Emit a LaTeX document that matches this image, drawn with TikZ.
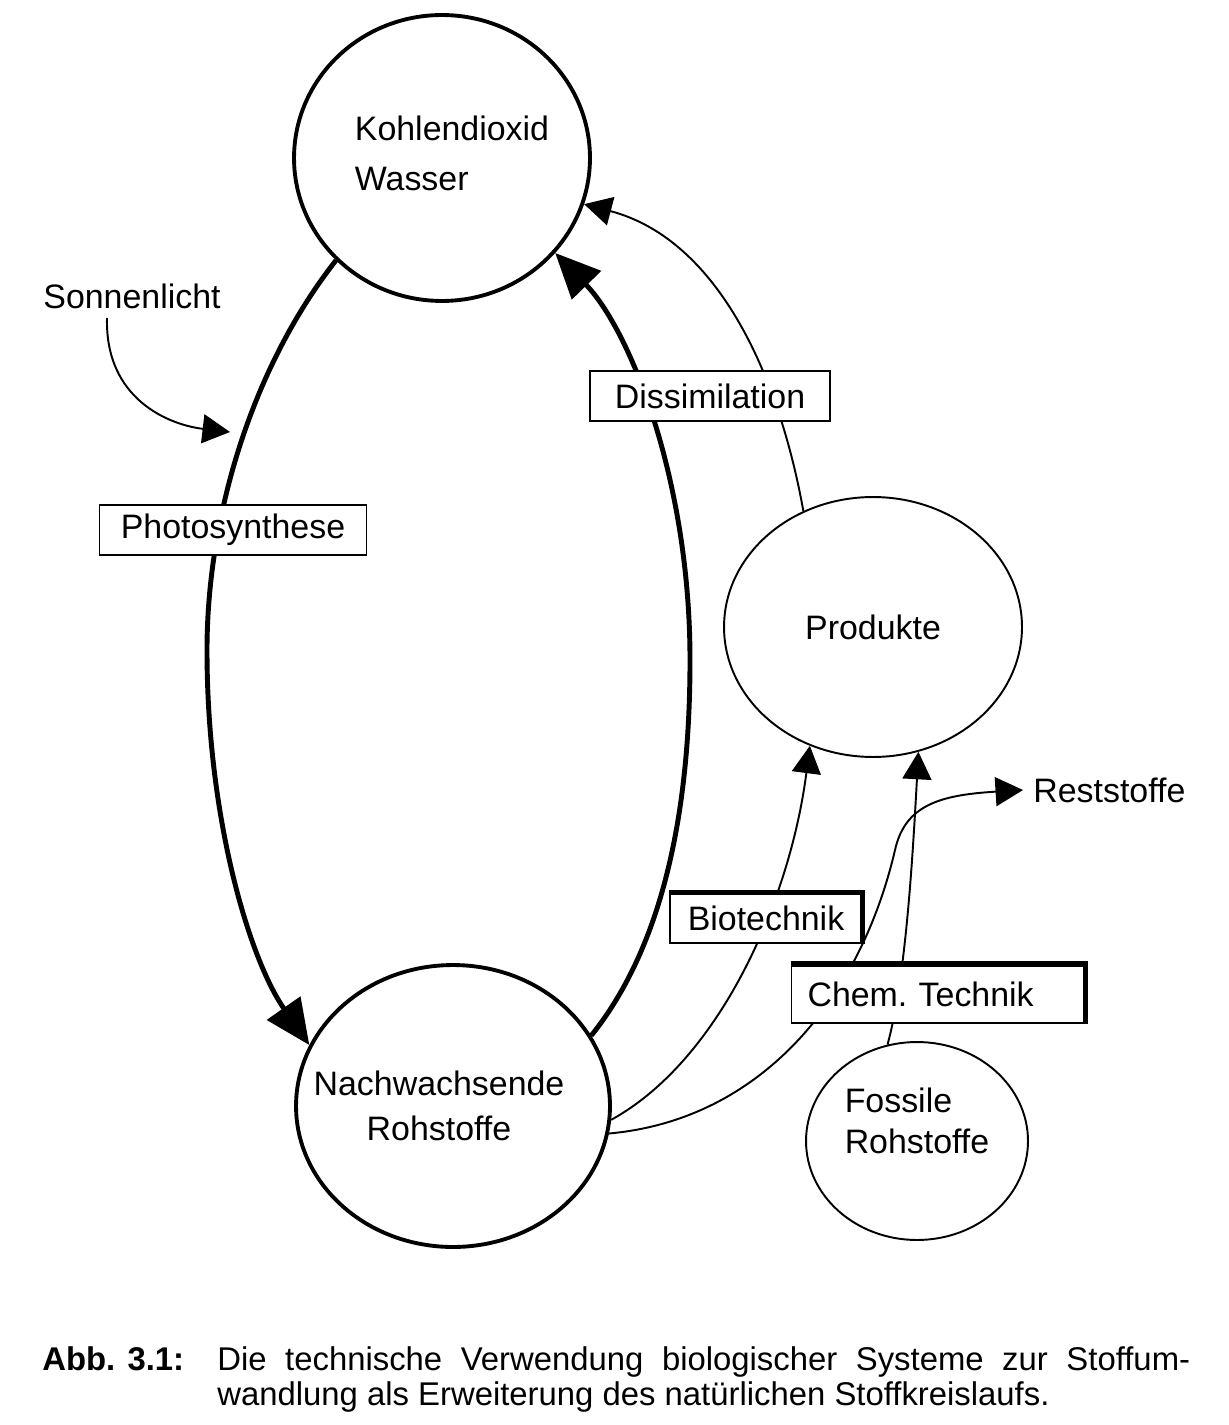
\documentclass[tikz,border=0pt]{standalone}
\usepackage{fontspec}
\setmainfont{Liberation Sans}
\usetikzlibrary{shapes.geometric,arrows.meta,positioning}

\begin{document}
\begin{tikzpicture}[
    x=0.02cm, y=-0.02cm,
    every node/.style={font=\fontsize{19.3}{26}\selectfont},
    pool/.style={ellipse, draw, line width=2.2pt, inner sep=0pt},
    thinpool/.style={ellipse, draw, line width=1.1pt, inner sep=0pt},
    tag/.style={draw, fill=white, line width=1pt, minimum height=1cm, inner sep=0pt},
    heavyedge/.style={line width=2.8pt},
    heavy/.style={line width=2.8pt, -{Triangle[length=0.9cm,width=0.8cm]}},
    flow/.style={line width=1.1pt, -{Triangle[length=0.55cm,width=0.58cm]}},
    capfont/.style={anchor=base west, inner sep=0pt, font=\fontsize{18.7}{20}\selectfont}
  ]
  \useasboundingbox (0,0) rectangle (1229,1425);

  % Stoffpools
  \node[pool, minimum width=5.92cm, minimum height=5.72cm,
        label={[align=left, xshift=0.2cm, yshift=0.1cm, font=\fontsize{19.3}{28.5}\selectfont]center:Kohlendioxid\\Wasser}] (co2) at (442,158) {};
  \node[pool, minimum width=6.28cm, minimum height=5.64cm,
        label={[align=center, xshift=-0.28cm]center:Nachwachsende\\Rohstoffe}] (raw) at (453,1106) {};
  \node[thinpool, minimum width=5.96cm, minimum height=5.2cm] (prod) at (873,627) {Produkte};
  \node[thinpool, minimum width=4.44cm, minimum height=3.96cm,
        label={[align=left, yshift=0.4cm, font=\fontsize{19.3}{23}\selectfont]center:Fossile\\Rohstoffe}] (fossil) at (917,1141) {};

  % freie Texte
  \node (sun) at (132,296) {Sonnenlicht};
  \node[anchor=west, inner sep=0.2cm] (rest) at (1023,790) {Reststoffe};
  \coordinate (sunstart) at (107,318);
  \coordinate (sunhit) at (230,432);

  % Kreislauf
  \draw[heavy] (co2.224) .. controls (250,370) and (207,520) .. (207,650)
               .. controls (207,820) and (250,960) .. (raw.157);
  \draw[heavy] (raw.27) .. controls (660,950) and (690,820) .. (690,660)
               .. controls (690,480) and (630,330) .. (co2.-40);
  \draw[flow] (sunstart) .. controls (105,400) and (170,425) .. (sunhit);

  % Technik
  \draw[flow] (prod.121) .. controls (780,380) and (720,240) .. (co2.-18);
  \draw[flow] (raw.-5) .. controls (720,1060) and (790,900) .. (prod.242);
  \draw[flow] (fossil.107) .. controls (905,980) and (912,870) .. (prod.290);
  \draw[flow] (raw.-10) .. controls (760,1120) and (860,1000) .. (895,850)
              .. controls (905,805) and (940,795) .. (rest.west);

  % Beschriftungen
  \node[tag, minimum width=5.34cm] (photo) at (233,530) {Photosynthese};
  \node[tag, minimum width=4.8cm] (dissim) at (710,396) {Dissimilation};
  \node[tag, minimum width=3.84cm] (bio) at (766,918) {Biotechnik};
  \node[tag, minimum height=1.16cm, text width=5.22cm, inner xsep=0.32cm, align=left] (chem) at (938,994) {Chem.\ Technik};
  \draw[heavyedge] (bio.north west) -- (bio.north east) -- (bio.south east);
  \draw[heavyedge, line width=3.2pt] (chem.north west) -- (chem.north east) -- (chem.south east);

  % Bildunterschrift
  \node[capfont, font=\fontsize{18.7}{20}\selectfont\bfseries] (abb) at (42,1370) {Abb. 3.1:};
  \node[capfont] (cap1) at (217,1370) {\makebox[19.46cm][s]{Die technische Verwendung biologischer Systeme zur Stoffum-}};
  \node[capfont] (cap2) at (217,1405) {wandlung als Erweiterung des natürlichen Stoffkreislaufs.};

\end{tikzpicture}
\end{document}
